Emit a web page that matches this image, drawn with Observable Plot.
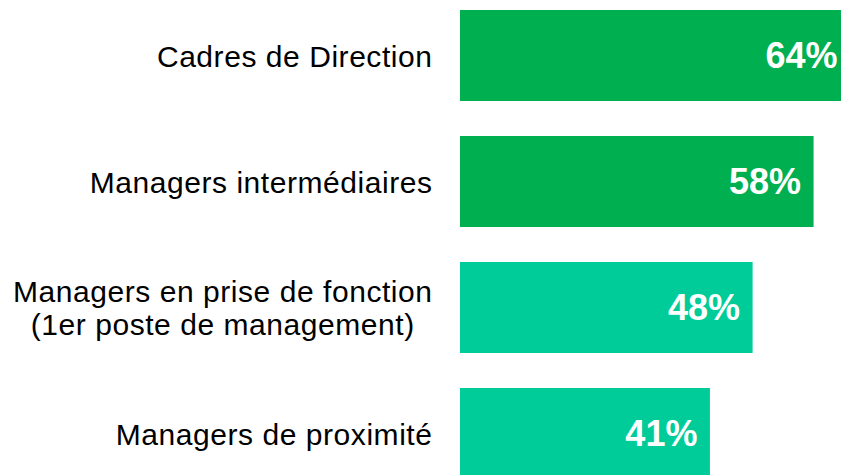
<!DOCTYPE html>
<html>
<head>
<meta charset="utf-8">
<script src="https://cdn.jsdelivr.net/npm/d3@7"></script>
<script src="https://cdn.jsdelivr.net/npm/@observablehq/plot@0.6"></script>
<style>
  html, body { margin: 0; padding: 0; background: #fff; overflow: hidden; }
  #chart { width: 841px; height: 475px; }
</style>
</head>
<body>
<div id="chart"></div>
<script>
const categories = [
  "Cadres de Direction",
  "Managers intermédiaires",
  "Managers en prise de fonction\n(1er poste de management)",
  "Managers de proximité"
];
const values = [64, 58, 48, 41];
const groups = ["direction", "direction", "terrain", "terrain"];
const groupColors = { direction: "#00B050", terrain: "#00CC99" };

const data = categories.map((c, i) => ({ category: c, value: values[i], group: groups[i] }));

const svg = Plot.plot({
  width: 841,
  height: 475,
  marginLeft: 460,
  marginRight: 0,
  marginTop: 10,
  marginBottom: -6,
  style: { fontFamily: "Arial, 'Liberation Sans', sans-serif", background: "white" },
  x: { domain: [0, 62.5], axis: null },
  y: { domain: categories, axis: null, paddingInner: 0.277, paddingOuter: 0, align: 0 },
  color: { domain: Object.keys(groupColors), range: Object.values(groupColors) },
  marks: [
    Plot.barX(data, { x: "value", y: "category", fill: "group" }),
    Plot.text(data, {
      x: "value", y: "category",
      text: d => d.value + "%",
      textAnchor: "end", dx: -13,
      fill: "white", fontWeight: "bold", fontSize: 36
    }),
    Plot.text(data, {
      x: 0, y: "category",
      text: "category",
      textAnchor: "end", dx: -28,
      lineHeight: 1.1,
      fill: "black", fontSize: 30
    })
  ]
});

document.getElementById("chart").append(svg);

// Category labels: slightly looser tracking, and multi-line lines centred on each other
const textGroups = svg.querySelectorAll("g[aria-label='text']");
const labelGroup = textGroups[textGroups.length - 1];
labelGroup.style.letterSpacing = "0.55px";
labelGroup.querySelectorAll("text").forEach(t => {
  const ts = t.querySelectorAll("tspan");
  if (ts.length > 1) {
    const w = [...ts].map(s => s.getComputedTextLength());
    const max = Math.max(...w);
    ts.forEach((s, i) => s.setAttribute("dx", -(max - w[i]) / 2));
  }
});
</script>
</body>
</html>
